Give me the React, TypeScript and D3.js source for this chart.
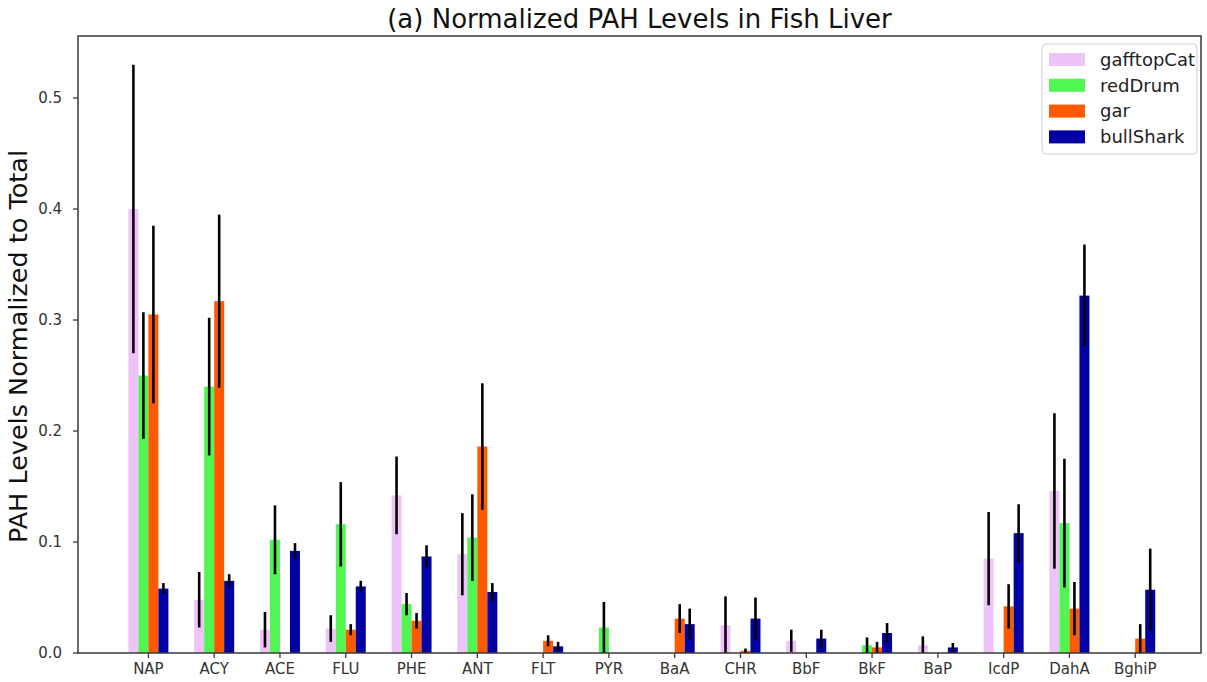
import React from "react";
import * as d3 from "d3";

// PAH compound categories along the x axis
const categories = ["NAP", "ACY", "ACE", "FLU", "PHE", "ANT", "FLT", "PYR", "BaA", "CHR", "BbF", "BkF", "BaP", "IcdP", "DahA", "BghiP"];

// Series names and colours
const seriesNames = ["gafftopCat", "redDrum", "gar", "bullShark"];
const seriesColors = ["#eec3fa", "#52f652", "#ff5a00", "#0000a3"];

// Mean normalized levels per species
const gafftopCat = [0.40, 0.048, 0.021, 0.022, 0.142, 0.089, 0, 0, 0, 0.025, 0.011, 0, 0.007, 0.085, 0.146, 0];
const redDrum = [0.25, 0.24, 0.102, 0.116, 0.044, 0.104, 0, 0.023, 0, 0, 0, 0.007, 0, 0, 0.117, 0];
const gar = [0.305, 0.317, 0, 0.021, 0.029, 0.186, 0.011, 0, 0.031, 0.002, 0, 0.005, 0, 0.042, 0.04, 0.013];
const bullShark = [0.058, 0.065, 0.092, 0.06, 0.087, 0.055, 0.006, 0, 0.026, 0.031, 0.013, 0.018, 0.005, 0.108, 0.322, 0.057];

// Error bar half-widths per species
const gafftopCatErr = [0.13, 0.025, 0.016, 0.012, 0.035, 0.037, 0, 0, 0, 0.026, 0.01, 0, 0.008, 0.042, 0.07, 0];
const redDrumErr = [0.057, 0.062, 0.031, 0.038, 0.01, 0.039, 0, 0.023, 0, 0, 0, 0.007, 0, 0, 0.058, 0];
const garErr = [0.08, 0.078, 0, 0.005, 0.007, 0.057, 0.005, 0, 0.013, 0.002, 0, 0.005, 0, 0.02, 0.024, 0.013];
const bullSharkErr = [0.005, 0.006, 0.007, 0.005, 0.01, 0.008, 0.004, 0, 0.014, 0.019, 0.008, 0.009, 0.004, 0.026, 0.046, 0.037];

const yTicks = [0.0, 0.1, 0.2, 0.3, 0.4, 0.5];

const W = 1207;
const H = 682;
const plot = { left: 78, right: 1201, top: 36, bottom: 653 };
const FONT = "'DejaVu Sans', sans-serif";

export default function App() {
  const values = [gafftopCat, redDrum, gar, bullShark];
  const errors = [gafftopCatErr, redDrumErr, garErr, bullSharkErr];

  const x = d3.scaleLinear().domain([-1.07, 16.0]).range([plot.left, plot.right]);
  const y = d3.scaleLinear().domain([0, 0.5559]).range([plot.bottom, plot.top]);
  const barW = 0.152;

  const bars: React.ReactNode[] = [];
  const errs: React.ReactNode[] = [];
  values.forEach((vals, s) => {
    vals.forEach((v, i) => {
      if (v <= 0) return;
      const cx = i + (s - 1.5) * barW;
      const x0 = x(cx - barW / 2);
      const x1 = x(cx + barW / 2);
      bars.push(
        <rect key={`b${s}-${i}`} x={x0} y={y(v)} width={x1 - x0} height={y(0) - y(v)} fill={seriesColors[s]} />
      );
      const e = errors[s][i];
      if (e > 0) {
        errs.push(
          <line key={`e${s}-${i}`} x1={x(cx)} x2={x(cx)} y1={y(v + e)} y2={Math.min(y(0), y(v - e))} stroke="#000" strokeWidth={2.6} />
        );
      }
    });
  });

  const axisColor = "#3a3a3a";
  const legendX = 1042;
  const legendY = 44;

  return (
    <svg width={W} height={H} style={{ position: "absolute", left: 0, top: 0, background: "#fff" }}>
      <rect x={0} y={0} width={W} height={H} fill="#fff" />
      <text x={(plot.left + plot.right) / 2} y={28} textAnchor="middle" fontFamily={FONT} fontSize={26} fill="#111">
        (a) Normalized PAH Levels in Fish Liver
      </text>
      <defs>
        <clipPath id="plotclip">
          <rect x={plot.left} y={plot.top} width={plot.right - plot.left} height={plot.bottom - plot.top} />
        </clipPath>
      </defs>
      <g clipPath="url(#plotclip)">
        {bars}
        {errs}
      </g>
      {/* axes frame */}
      <rect x={plot.left} y={plot.top} width={plot.right - plot.left} height={plot.bottom - plot.top} fill="none" stroke={axisColor} strokeWidth={1.5} />
      {/* y ticks */}
      {yTicks.map((t) => (
        <g key={`yt${t}`}>
          <line x1={plot.left - 5} x2={plot.left} y1={y(t)} y2={y(t)} stroke={axisColor} strokeWidth={1.3} />
          <text x={plot.left - 16} y={y(t)} dy="0.35em" textAnchor="end" fontFamily={FONT} fontSize={15} fill="#333">
            {t.toFixed(1)}
          </text>
        </g>
      ))}
      {/* x ticks */}
      {categories.map((c, i) => (
        <g key={`xt${c}`}>
          <line x1={x(i)} x2={x(i)} y1={plot.bottom} y2={plot.bottom + 5} stroke={axisColor} strokeWidth={1.3} />
          <text x={x(i)} y={plot.bottom + 21} textAnchor="middle" fontFamily={FONT} fontSize={15} fill="#333">
            {c}
          </text>
        </g>
      ))}
      {/* y axis label */}
      <text
        transform={`translate(27, ${(plot.top + plot.bottom) / 2 + 2}) rotate(-90)`}
        textAnchor="middle"
        fontFamily={FONT}
        fontSize={25.5}
        fill="#111"
      >
        PAH Levels Normalized to Total
      </text>
      {/* legend */}
      <rect x={legendX} y={legendY} width={155} height={110} rx={4} fill="#fff" fillOpacity={0.8} stroke="#d0d0d0" strokeWidth={1} />
      {seriesNames.map((n, s) => (
        <g key={`lg${n}`}>
          <rect x={legendX + 7} y={legendY + 9 + s * 25.8} width={36} height={13} fill={seriesColors[s]} />
          <text x={legendX + 58} y={legendY + 15.5 + s * 25.8} dy="0.35em" fontFamily={FONT} fontSize={18} fill="#222">
            {n}
          </text>
        </g>
      ))}
    </svg>
  );
}
